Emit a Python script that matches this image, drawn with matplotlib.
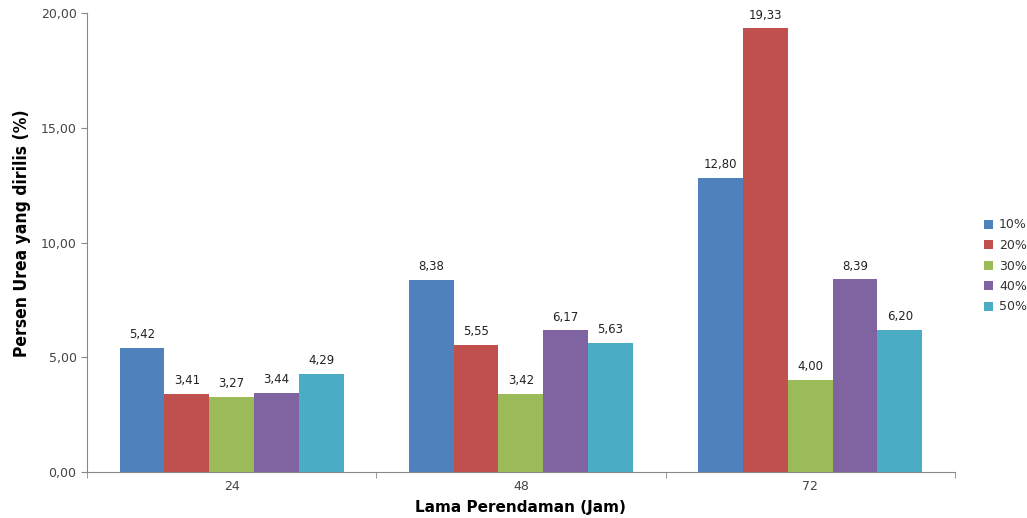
import matplotlib
matplotlib.use("Agg")
import matplotlib.pyplot as plt
import numpy as np

categories = ["24", "48", "72"]
series_names = ["10%", "20%", "30%", "40%", "50%"]
s10 = [5.42, 8.38, 12.80]
s20 = [3.41, 5.55, 19.33]
s30 = [3.27, 3.42, 4.00]
s40 = [3.44, 6.17, 8.39]
s50 = [4.29, 5.63, 6.20]
series = [s10, s20, s30, s40, s50]
colors = ["#4F81BD", "#C0504D", "#9BBB59", "#8064A2", "#4BACC6"]

fig = plt.figure(figsize=(10.27, 5.18), dpi=100)
ax = fig.add_axes([0.0847, 0.0888, 0.845, 0.886])

x = np.arange(len(categories))
bw = 0.155
for i, (vals, c, name) in enumerate(zip(series, colors, series_names)):
    pos = x + (i - 2) * bw
    bars = ax.bar(pos, vals, width=bw, color=c, label=name, zorder=3)
    for b, v in zip(bars, vals):
        ax.text(b.get_x() + b.get_width() / 2, v + 0.3, f"{v:.2f}".replace(".", ","),
                ha="center", va="bottom", fontsize=8.5, color="#222222")

ax.set_xlim(-0.5, 2.5)
ax.set_ylim(0, 20)
ax.set_yticks([0, 5, 10, 15, 20])
ax.set_yticklabels([f"{t:.2f}".replace(".", ",") for t in [0, 5, 10, 15, 20]],
                   fontsize=9, color="#444444")
ax.set_xticks(x)
ax.set_xticklabels(categories, fontsize=9, color="#444444")
ax.tick_params(axis="x", length=0, pad=6)
ax.set_xticks([-0.5, 0.5, 1.5, 2.5], minor=True)
ax.tick_params(axis="x", which="minor", length=4, color="#888888")
ax.tick_params(axis="y", length=4, color="#888888")

for s in ["top", "right"]:
    ax.spines[s].set_visible(False)
for s in ["left", "bottom"]:
    ax.spines[s].set_color("#888888")

ax.set_ylabel("Persen Urea yang dirilis (%)", fontsize=12.5, fontweight="bold",
              family="DejaVu Sans", fontstretch="condensed")
ax.yaxis.set_label_coords(-0.075, 0.52)
ax.set_xlabel("Lama Perendaman (Jam)", fontsize=11, fontweight="bold")
ax.xaxis.set_label_coords(0.5, -0.078)
ax.xaxis.label.set_va("center")
ax.yaxis.label.set_va("center")

leg = fig.legend(*ax.get_legend_handles_labels(), loc="center left",
                 bbox_to_anchor=(984 / 1027, (518 - 266) / 518), frameon=False,
                 fontsize=9, handlelength=0.7, handleheight=0.7, handletextpad=0.5,
                 labelspacing=0.6, borderpad=0, borderaxespad=0)
for t in leg.get_texts():
    t.set_color("#333333")

fig.savefig("out.png", dpi=100)
